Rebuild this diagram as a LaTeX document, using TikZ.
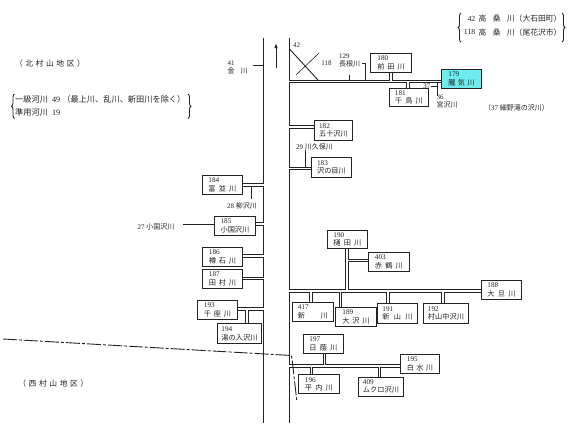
\documentclass[tikz,border=0pt]{standalone}
\usepackage{fontspec}
\setmainfont{Liberation Serif}
\newfontfamily\jp{Noto Sans CJK JP}
\usetikzlibrary{decorations.pathreplacing,arrows.meta}
\newcommand\spr[2]{\makebox[#1pt]{#2}}
\definecolor{cyanbox}{RGB}{110,236,240}
\definecolor{ink}{RGB}{35,35,35}
\begin{document}
\begin{tikzpicture}[x=1pt,y=-1pt,
  rbox/.style={draw=ink, line width=0.9pt, inner sep=0pt, anchor=north west, align=left, font=\fontsize{7.2}{8.5}\selectfont, text=ink},
  lbl/.style={inner sep=0pt, align=left, font=\fontsize{7}{8}\selectfont, text=ink},
  big/.style={inner sep=0pt, align=left, font=\fontsize{7.8}{9}\selectfont, text=ink},
  pipe/.style={draw=ink, line width=0.9pt},
  brc/.style={draw=ink, line width=0.9pt, decorate, decoration={brace, amplitude=3pt}}]
\useasboundingbox (0,0) rectangle (570,429);
\fill[white] (0,0) rectangle (570,429);

% ---------- boxes ----------
\node[rbox, minimum width=41pt, minimum height=19pt] (b180) at (370,53) {180\\{\jp\spr{27}{前\hfill 田\hfill 川}}};
\node[rbox, fill=cyanbox, minimum width=40pt, minimum height=18.5pt] (b179) at (441,69) {179\\{\jp\spr{26}{朧\hfill 気\hfill 川}}};
\node[rbox, minimum width=39pt, minimum height=17.5pt] (b181) at (389,88) {181\\{\jp\spr{28}{千\hfill 鳥\hfill 川}}};
\node[rbox, minimum width=38pt, minimum height=20pt] (b182) at (314,120) {182\\{\jp 五十沢川}};
\node[rbox, minimum width=40pt, minimum height=20pt] (b183) at (311,157) {183\\{\jp 沢の目川}};
\node[rbox, minimum width=40pt, minimum height=19pt] (b184) at (202,175) {184\\{\jp\spr{28}{富\hfill 並\hfill 川}}};
\node[rbox, minimum width=41pt, minimum height=19pt] (b185) at (214,216) {185\\{\jp 小国沢川}};
\node[rbox, minimum width=40pt, minimum height=19pt] (b186) at (202,247) {186\\{\jp\spr{27}{樽\hfill 石\hfill 川}}};
\node[rbox, minimum width=40pt, minimum height=19pt] (b187) at (202,269) {187\\{\jp\spr{27}{田\hfill 村\hfill 川}}};
\node[rbox, minimum width=40pt, minimum height=19pt] (b193) at (197,300) {193\\{\jp\spr{27}{千\hfill 座\hfill 川}}};
\node[rbox, minimum width=44pt, minimum height=20pt] (b194) at (217,323.3) {194\\{\jp 湯の入沢川}};
\node[rbox, minimum width=40pt, minimum height=18pt] (b190) at (327,230) {190\\{\jp\spr{28}{樋\hfill 田\hfill 川}}};
\node[rbox, minimum width=41pt, minimum height=19pt] (b403) at (368,252) {403\\{\jp\spr{28}{赤\hfill 鶴\hfill 川}}};
\node[rbox, minimum width=40pt, minimum height=19pt] (b188) at (481,280) {188\\{\jp\spr{28}{大\hfill 旦\hfill 川}}};
\node[rbox, minimum width=41pt, minimum height=19pt] (b417) at (292,302) {417\\{\jp\spr{30}{新\hfill 川}}};
\node[rbox, minimum width=41pt, minimum height=19pt] (b189) at (335,307) {189\\{\jp\spr{27}{大\hfill 沢\hfill 川}}};
\node[rbox, minimum width=40pt, minimum height=19.5pt] (b191) at (377,303.3) {191\\{\jp\spr{30}{新\hfill 山\hfill 川}}};
\node[rbox, minimum width=45pt, minimum height=19.5pt] (b192) at (423,303.3) {192\\{\jp 村山中沢川}};
\node[rbox, minimum width=40pt, minimum height=19.3pt] (b197) at (303,334) {197\\{\jp\spr{28}{日\hfill 蔭\hfill 川}}};
\node[rbox, minimum width=39pt, minimum height=19pt] (b195) at (400,354) {195\\{\jp\spr{26}{白\hfill 水\hfill 川}}};
\node[rbox, minimum width=41pt, minimum height=19pt] (b196) at (298,374.3) {196\\{\jp\spr{28}{平\hfill 内\hfill 川}}};
\node[rbox, minimum width=45pt, minimum height=19pt] (b409) at (358,376.7) {409\\{\jp ムクロ沢川}};

% ---------- right bank network ----------
\draw[pipe] (289,37.7) -- (289,80) -- (389.7,80) -- (389.7,72);
\draw[pipe] (392.3,72) -- (392.3,80) -- (441,80);
\draw[pipe] (441,82.6) -- (409.3,82.6) -- (409.3,88);
\draw[pipe] (406.7,88) -- (406.7,82.6) -- (289,82.6) -- (289,125.4) -- (314,125.4);
\draw[pipe] (314,128) -- (289,128) -- (289,167.2) -- (311,167.2);
\draw[pipe] (311,169.8) -- (289,169.8) -- (289,289.3) -- (345.7,289.3) -- (345.7,248);
\draw[pipe] (348.3,248) -- (348.3,259) -- (368,259);
\draw[pipe] (368,261.7) -- (348.3,261.7) -- (348.3,289.3) -- (481,289.3);
\draw[pipe] (481,292) -- (444.3,292) -- (444.3,303.3);
\draw[pipe] (441.7,303.3) -- (441.7,292) -- (389.3,292) -- (389.3,303.3);
\draw[pipe] (386.7,303.3) -- (386.7,292) -- (341.7,292) -- (341.7,307);
\draw[pipe] (339.3,307) -- (339.3,292) -- (312,292) -- (312,302);
\draw[pipe] (309.3,302) -- (309.3,292) -- (289,292) -- (289,364.3) -- (323.3,364.3) -- (323.3,353.3);
\draw[pipe] (325.7,353.3) -- (325.7,364.3) -- (400,364.3);
\draw[pipe] (400,367) -- (380.7,367) -- (380.7,376.7);
\draw[pipe] (378.3,376.7) -- (378.3,367) -- (312.3,367) -- (312.3,374.3);
\draw[pipe] (310,374.3) -- (310,367) -- (289,367) -- (289,423);

% ---------- left bank network ----------
\draw[pipe] (263,37.7) -- (263,183.3) -- (242,183.3);
\draw[pipe] (242,186) -- (263,186) -- (263,222.8) -- (255,222.8);
\draw[pipe] (255,225.4) -- (263,225.4) -- (263,254.5) -- (242,254.5);
\draw[pipe] (242,257.2) -- (263,257.2) -- (263,277) -- (242,277);
\draw[pipe] (242,279.6) -- (263,279.6) -- (263,307.7) -- (237,307.7);
\draw[pipe] (237,310.3) -- (245.7,310.3) -- (245.7,323.3);
\draw[pipe] (248.3,323.3) -- (248.3,310.3) -- (263,310.3) -- (263,423);

% ---------- small tributaries ----------
\draw[pipe] (253,65.7) -- (263,65.7);
\draw[pipe] (289.5,49) -- (318,80);
\draw[pipe, line width=0.6pt] (296,75) -- (319,53);
\draw[pipe] (362,63) -- (365,63) -- (365,80);
\draw[pipe] (349.3,75) -- (349.3,80);
\draw[pipe] (437.3,82.6) -- (437.3,96);
\draw[pipe] (431,86) -- (437.3,86);
\draw[pipe] (305,150) -- (305,167.2);
\draw[pipe] (251.7,186) -- (251.7,199);
\draw[pipe] (183,224.3) -- (b185.west |- 0,224.3);

% arrow
\draw[draw=ink, line width=0.9pt, -{Latex[length=5pt,width=3.5pt]}] (276,68) -- (276,43);

% boundary line
\draw[draw=ink, line width=0.9pt, dash pattern=on 14pt off 2pt on 3pt off 2pt] (3,339) -- (291.5,355.5) -- (292.5,363) -- (296.7,400);

% ---------- labels ----------
\node[lbl, anchor=west] (t41) at (227.5,67) {41\\{\jp\spr{20}{金\hfill 川}}};
\node[lbl] (t42) at (296.5,45) {42};
\node[lbl] (t118) at (326.5,63.3) {118};
\node[lbl, anchor=west] (t129) at (339,60) {129\\{\jp 長根川}};
\node[lbl, anchor=east] (t37) at (430.5,86) {37};
\node[lbl, anchor=west] (t36) at (436.5,101.5) {36\\{\jp 宮沢川}};
\node[lbl, anchor=west] (tnote) at (484,108.3) {{\jp（}37 {\jp 細野滝の沢川）}};
\node[lbl, anchor=west] (t29) at (296,146.5) {29 {\jp 川久保川}};
\node[lbl, anchor=west] (t28) at (227,206) {28 {\jp 柳沢川}};
\node[lbl, anchor=west] (t27) at (137.5,226.5) {27 {\jp 小国沢川}};

\node[big] (north) at (50,63.3) {\jp\spr{70}{（\hfill 北\hfill 村\hfill 山\hfill 地\hfill 区\hfill ）}};
\node[big] (west) at (53.3,383.3) {\jp\spr{70}{（\hfill 西\hfill 村\hfill 山\hfill 地\hfill 区\hfill ）}};

\node[big, anchor=west, font=\fontsize{8.2}{9}\selectfont] (cls1) at (15,99.3) {{\jp 一級河川}\ \ 49 {\jp（最上川、乱川、新田川を除く）}};
\node[big, anchor=west, font=\fontsize{8.2}{9}\selectfont] (cls2) at (15,112.7) {{\jp 準用河川}\ \ 19};
\draw[brc] (14.5,118.5) -- (14.5,94);
\draw[brc] (188,94) -- (188,118.5);

\node[big, anchor=east] (n42) at (475.5,19) {42};
\node[big, anchor=west] (k42) at (478.5,19) {\jp\spr{36}{高\hfill 桑\hfill 川}（大石田町）};
\node[big, anchor=east] (n118) at (475.5,32.3) {118};
\node[big, anchor=west] (k118) at (478.5,32.3) {\jp\spr{36}{高\hfill 桑\hfill 川}（尾花沢市）};
\draw[brc] (461,42) -- (461,13);
\draw[brc] (562,13) -- (562,42);
\end{tikzpicture}
\end{document}
